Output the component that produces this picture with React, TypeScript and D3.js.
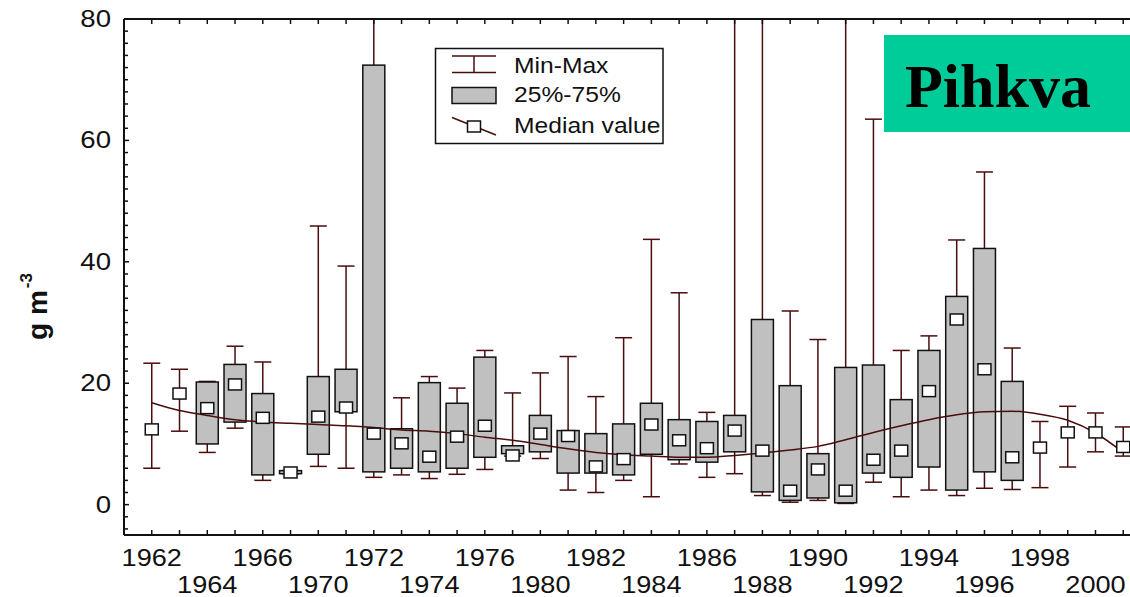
import React, {useEffect, useRef} from 'react';
import * as d3 from 'd3';

// years on the x axis (1968-69 and 1978-79 are missing in the source)
const years = [
  '1962', '1963', '1964', '1965', '1966', '1967', '1970', '1971', '1972', '1973',
  '1974', '1975', '1976', '1977', '1980', '1981', '1982', '1983', '1984', '1985',
  '1986', '1987', '1988', '1989', '1990', '1991', '1992', '1993', '1994', '1995',
  '1996', '1997', '1998', '1999', '2000', '2001',
];
const mins = [
  6.0, 12.1, 8.6, 12.6, 4.0, 5.1, 6.3, 6.0, 4.5, 4.9,
  4.3, 5.0, 5.8, 8.0, 7.6, 2.4, 2.0, 4.0, 1.3, 6.7,
  4.5, 5.1, 1.5, 0.4, 0.7, 0.2, 3.7, 1.3, 2.4, 1.5,
  2.7, 2.5, 2.8, 6.2, 8.7, 8.0,
];
const q1s = [
  12.4, 18.3, 10.0, 13.6, 4.9, 5.1, 8.3, 15.3, 5.4, 6.0,
  5.4, 6.0, 7.8, 8.4, 8.7, 5.2, 5.2, 4.9, 8.3, 7.4,
  7.0, 8.7, 2.1, 0.7, 1.1, 0.3, 5.2, 4.5, 6.2, 2.4,
  5.4, 4.0, 9.4, 11.9, 11.9, 9.5,
];
const medians = [
  12.4, 18.3, 15.9, 19.8, 14.3, 5.3, 14.5, 16.0, 11.7, 10.1,
  7.9, 11.2, 13.0, 8.1, 11.7, 11.3, 6.3, 7.5, 13.2, 10.6,
  9.3, 12.2, 8.9, 2.3, 5.8, 2.3, 7.4, 8.9, 18.7, 30.5,
  22.3, 7.8, 9.4, 11.9, 11.9, 9.5,
];
const q3s = [
  12.4, 18.3, 20.2, 23.1, 18.3, 5.6, 21.1, 22.3, 72.4, 12.5,
  20.1, 16.7, 24.3, 9.7, 14.7, 12.2, 11.7, 13.3, 16.7, 14.0,
  13.7, 14.7, 30.5, 19.6, 8.4, 22.6, 23.0, 17.3, 25.4, 34.3,
  42.2, 20.3, 9.4, 11.9, 11.9, 9.5,
];
const maxs = [
  23.3, 22.3, 20.3, 26.1, 23.5, 5.6, 45.9, 39.3, 90, 17.6,
  21.1, 19.2, 25.4, 18.4, 21.7, 24.4, 17.8, 27.5, 43.7, 34.9,
  15.2, 90, 90, 31.9, 27.2, 90, 63.5, 25.4, 27.8, 43.6,
  54.8, 25.8, 13.7, 16.2, 15.1, 12.8,
];
// smoothed median trend
const trend = [
  16.8, 15.5, 14.7, 14.0, 13.6, 13.4, 13.2, 13.0, 12.7, 12.3,
  12.1, 11.7, 11.1, 10.6, 9.9, 9.2, 8.6, 8.2, 8.0, 7.8,
  7.8, 8.1, 8.5, 9.0, 9.6, 10.7, 11.9, 13.0, 14.0, 14.8,
  15.3, 15.4, 14.9, 13.9, 11.8, 8.6,
];
const y_ticks = [0, 20, 40, 60, 80];
const legend_labels = ['Min-Max', '25%-75%', 'Median value'];

const WHISKER = '#4a0d0d';

export default function App() {
  const ref = useRef<SVGSVGElement>(null);

  useEffect(() => {
    const svg = d3.select(ref.current);
    svg.selectAll('*').remove();

    const left = 124, top = 19, bottom = 535, right = 1151;

    const x = d3.scalePoint().domain(years).range([left, right]).padding(1);
    const y = d3.scaleLinear().domain([-5, 80]).range([bottom, top]);

    svg.append('defs').append('clipPath').attr('id', 'plot-clip')
      .append('rect')
      .attr('x', left).attr('y', top)
      .attr('width', right - left).attr('height', bottom - top);

    const plot = svg.append('g').attr('clip-path', 'url(#plot-clip)');

    const rows = years.map((yr, i) => ({
      yr, min: mins[i], q1: q1s[i], med: medians[i], q3: q3s[i], max: maxs[i], fit: trend[i],
    }));

    // whiskers
    const wg = plot.append('g').attr('stroke', WHISKER).attr('stroke-width', 1.5);
    rows.forEach(d => {
      const cx = x(d.yr) as number;
      wg.append('line').attr('x1', cx).attr('x2', cx).attr('y1', y(d.min)).attr('y2', y(d.max));
      wg.append('line').attr('x1', cx - 8.5).attr('x2', cx + 8.5).attr('y1', y(d.min)).attr('y2', y(d.min));
      wg.append('line').attr('x1', cx - 8.5).attr('x2', cx + 8.5).attr('y1', y(d.max)).attr('y2', y(d.max));
    });

    // 25-75% boxes
    plot.append('g')
      .selectAll('rect')
      .data(rows.filter(d => d.q3 > d.q1))
      .join('rect')
      .attr('x', d => (x(d.yr) as number) - 11)
      .attr('y', d => y(d.q3))
      .attr('width', 22)
      .attr('height', d => y(d.q1) - y(d.q3))
      .attr('fill', '#c0c0c0')
      .attr('stroke', '#111')
      .attr('stroke-width', 1.5);

    // smoothed line
    const line = d3.line<any>()
      .x(d => x(d.yr) as number)
      .y(d => y(d.fit))
      .curve(d3.curveMonotoneX);
    plot.append('path')
      .datum(rows)
      .attr('fill', 'none')
      .attr('stroke', WHISKER)
      .attr('stroke-width', 1.5)
      .attr('d', line);

    // median squares
    plot.append('g')
      .selectAll('rect')
      .data(rows)
      .join('rect')
      .attr('x', d => (x(d.yr) as number) - 6.5)
      .attr('y', d => y(d.med) - 5.5)
      .attr('width', 13)
      .attr('height', 11)
      .attr('fill', '#fff')
      .attr('stroke', '#111')
      .attr('stroke-width', 1.5);

    // axes
    const axes = svg.append('g').attr('stroke', '#111').attr('fill', 'none');
    axes.append('line').attr('x1', left).attr('x2', left).attr('y1', top).attr('y2', bottom).attr('stroke-width', 2);
    axes.append('line').attr('x1', left).attr('x2', right).attr('y1', bottom).attr('y2', bottom).attr('stroke-width', 2);
    axes.append('line').attr('x1', left).attr('x2', right).attr('y1', top).attr('y2', top).attr('stroke-width', 2);

    years.forEach(yr => {
      const cx = x(yr) as number;
      axes.append('line').attr('x1', cx).attr('x2', cx).attr('y1', bottom).attr('y2', bottom - 5).attr('stroke-width', 1.5);
      axes.append('line').attr('x1', cx).attr('x2', cx).attr('y1', top).attr('y2', top + 5).attr('stroke-width', 1.5);
    });
    d3.range(-4, 81, 2).forEach(v => {
      const len = v % 20 === 0 ? 5 : 4;
      axes.append('line').attr('x1', left).attr('x2', left + len).attr('y1', y(v)).attr('y2', y(v)).attr('stroke-width', 1.5);
    });

    const font = '"Liberation Sans", Arial, sans-serif';

    // y labels
    y_ticks.forEach(v => {
      svg.append('text')
        .attr('transform', `translate(111,${y(v) + 8}) scale(1.2,1)`)
        .attr('text-anchor', 'end')
        .attr('font-family', font)
        .attr('font-size', 23)
        .attr('fill', '#111')
        .text(v);
    });

    // x labels on two rows
    years.forEach((yr, i) => {
      if (i % 2 !== 0) return;
      const row = (i / 2) % 2;
      svg.append('text')
        .attr('transform', `translate(${x(yr)},${row === 0 ? 566 : 593}) scale(1.18,1)`)
        .attr('text-anchor', 'middle')
        .attr('font-family', font)
        .attr('font-size', 23)
        .attr('fill', '#111')
        .text(yr);
    });

    // y title
    const title = svg.append('text')
      .attr('transform', 'translate(47,340) rotate(-90)')
      .attr('font-family', font)
      .attr('font-weight', 'bold')
      .attr('font-size', 28)
      .attr('fill', '#111');
    title.append('tspan').text('g m');
    title.append('tspan').attr('dx', 2).attr('dy', -15).attr('font-size', 17).text('-3');

    // legend
    const lg = svg.append('g');
    lg.append('rect')
      .attr('x', 435.5).attr('y', 48.5).attr('width', 227.5).attr('height', 95)
      .attr('fill', '#fff').attr('stroke', '#111').attr('stroke-width', 1.5);
    const sx = 452, ex = 496, mx = 474;
    lg.append('line').attr('x1', sx).attr('x2', ex).attr('y1', 56).attr('y2', 56).attr('stroke', WHISKER).attr('stroke-width', 1.5);
    lg.append('line').attr('x1', sx).attr('x2', ex).attr('y1', 72.5).attr('y2', 72.5).attr('stroke', WHISKER).attr('stroke-width', 1.5);
    lg.append('line').attr('x1', mx).attr('x2', mx).attr('y1', 56).attr('y2', 72.5).attr('stroke', WHISKER).attr('stroke-width', 1.5);
    lg.append('rect').attr('x', sx).attr('y', 87.5).attr('width', ex - sx).attr('height', 16)
      .attr('fill', '#c0c0c0').attr('stroke', '#111').attr('stroke-width', 1.5);
    lg.append('line').attr('x1', sx).attr('x2', ex).attr('y1', 117.5).attr('y2', 135).attr('stroke', WHISKER).attr('stroke-width', 1.5);
    lg.append('rect').attr('x', mx - 6.5).attr('y', 121).attr('width', 13).attr('height', 11)
      .attr('fill', '#fff').attr('stroke', '#111').attr('stroke-width', 1.5);
    [72.5, 102, 133].forEach((by, i) => {
      lg.append('text')
        .attr('transform', `translate(514,${by}) scale(1.12,1)`)
        .attr('font-family', font)
        .attr('font-size', 22)
        .attr('fill', '#111')
        .text(legend_labels[i]);
    });

    // station label
    svg.append('rect')
      .attr('x', 884).attr('y', 35).attr('width', 260).attr('height', 97)
      .attr('fill', '#00cc99');
    svg.append('text')
      .attr('x', 905).attr('y', 107)
      .attr('font-family', '"Liberation Serif", "Times New Roman", serif')
      .attr('font-weight', 'bold')
      .attr('font-size', 62)
      .attr('fill', '#000')
      .text('Pihkva');
  }, []);

  return (
    <div style={{position: 'absolute', left: 0, top: 0}}>
      <svg ref={ref} width={1130} height={597} style={{display: 'block', background: '#fff'}}></svg>
    </div>
  );
}
